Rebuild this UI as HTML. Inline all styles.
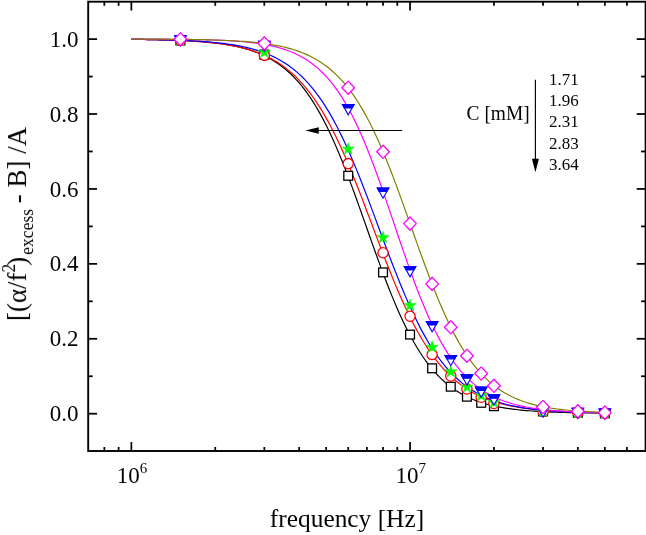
<!DOCTYPE html>
<html><head><meta charset="utf-8"><title>chart</title>
<style>html,body{margin:0;padding:0;background:#fff;}body{width:646px;height:535px;overflow:hidden;position:relative;font-family:"Liberation Serif",serif;}</style>
</head><body>
<svg width="646" height="535" viewBox="0 0 646 535" style="position:absolute;left:0;top:0">
<rect x="0" y="0" width="646" height="535" fill="#fff"/>
<path d="M131.35,39.34 L134.15,39.37 L136.95,39.40 L139.76,39.44 L142.56,39.47 L145.36,39.51 L148.16,39.56 L150.96,39.61 L153.76,39.66 L156.57,39.71 L159.37,39.78 L162.17,39.84 L164.97,39.91 L167.77,39.99 L170.58,40.08 L173.38,40.17 L176.18,40.27 L178.98,40.38 L181.78,40.50 L184.58,40.63 L187.39,40.77 L190.19,40.92 L192.99,41.09 L195.79,41.26 L198.59,41.46 L201.39,41.67 L204.20,41.90 L207.00,42.15 L209.80,42.42 L212.60,42.71 L215.40,43.03 L218.21,43.38 L221.01,43.75 L223.81,44.16 L226.61,44.60 L229.41,45.08 L232.21,45.60 L235.02,46.16 L237.82,46.77 L240.62,47.43 L243.42,48.15 L246.22,48.93 L249.03,49.77 L251.83,50.68 L254.63,51.66 L257.43,52.72 L260.23,53.88 L263.03,55.12 L265.84,56.46 L268.64,57.91 L271.44,59.47 L274.24,61.16 L277.04,62.97 L279.85,64.92 L282.65,67.02 L285.45,69.28 L288.25,71.70 L291.05,74.29 L293.85,77.07 L296.66,80.05 L299.46,83.22 L302.26,86.61 L305.06,90.22 L307.86,94.06 L310.66,98.13 L313.47,102.45 L316.27,107.02 L319.07,111.84 L321.87,116.91 L324.67,122.25 L327.48,127.84 L330.28,133.69 L333.08,139.79 L335.88,146.13 L338.68,152.71 L341.48,159.51 L344.29,166.53 L347.09,173.74 L349.89,181.12 L352.69,188.66 L355.49,196.33 L358.30,204.11 L361.10,211.97 L363.90,219.88 L366.70,227.82 L369.50,235.75 L372.30,243.66 L375.11,251.50 L377.91,259.26 L380.71,266.90 L383.51,274.40 L386.31,281.75 L389.11,288.92 L391.92,295.88 L394.72,302.63 L397.52,309.16 L400.32,315.44 L403.12,321.48 L405.93,327.26 L408.73,332.78 L411.53,338.04 L414.33,343.04 L417.13,347.79 L419.93,352.28 L422.74,356.52 L425.54,360.52 L428.34,364.28 L431.14,367.81 L433.94,371.12 L436.75,374.22 L439.55,377.12 L442.35,379.82 L445.15,382.35 L447.95,384.69 L450.75,386.88 L453.56,388.91 L456.36,390.80 L459.16,392.55 L461.96,394.17 L464.76,395.67 L467.57,397.06 L470.37,398.34 L473.17,399.53 L475.97,400.63 L478.77,401.64 L481.57,402.57 L484.38,403.44 L487.18,404.23 L489.98,404.96 L492.78,405.64 L495.58,406.26 L498.38,406.83 L501.19,407.36 L503.99,407.84 L506.79,408.29 L509.59,408.70 L512.39,409.07 L515.20,409.42 L518.00,409.74 L520.80,410.03 L523.60,410.30 L526.40,410.55 L529.20,410.77 L532.01,410.98 L534.81,411.17 L537.61,411.35 L540.41,411.51 L543.21,411.66 L546.02,411.80 L548.82,411.92 L551.62,412.03 L554.42,412.14 L557.22,412.24 L560.02,412.32 L562.83,412.41 L565.63,412.48 L568.43,412.55 L571.23,412.61 L574.03,412.67 L576.84,412.72 L579.64,412.77 L582.44,412.81 L585.24,412.85 L588.04,412.89 L590.84,412.93 L593.65,412.96 L596.45,412.99 L599.25,413.01 L602.05,413.04 L604.85,413.06" fill="none" stroke="#000000" stroke-width="1.2" stroke-linejoin="round"/>
<path d="M131.35,39.37 L134.15,39.40 L136.95,39.44 L139.76,39.47 L142.56,39.51 L145.36,39.56 L148.16,39.60 L150.96,39.65 L153.76,39.71 L156.57,39.77 L159.37,39.83 L162.17,39.90 L164.97,39.98 L167.77,40.06 L170.58,40.15 L173.38,40.25 L176.18,40.35 L178.98,40.47 L181.78,40.59 L184.58,40.72 L187.39,40.87 L190.19,41.02 L192.99,41.19 L195.79,41.37 L198.59,41.57 L201.39,41.79 L204.20,42.02 L207.00,42.27 L209.80,42.54 L212.60,42.84 L215.40,43.15 L218.21,43.50 L221.01,43.87 L223.81,44.27 L226.61,44.71 L229.41,45.18 L232.21,45.69 L235.02,46.24 L237.82,46.83 L240.62,47.47 L243.42,48.17 L246.22,48.91 L249.03,49.72 L251.83,50.59 L254.63,51.53 L257.43,52.53 L260.23,53.62 L263.03,54.79 L265.84,56.05 L268.64,57.41 L271.44,58.86 L274.24,60.43 L277.04,62.10 L279.85,63.90 L282.65,65.83 L285.45,67.90 L288.25,70.11 L291.05,72.47 L293.85,74.99 L296.66,77.68 L299.46,80.55 L302.26,83.60 L305.06,86.83 L307.86,90.27 L310.66,93.91 L313.47,97.76 L316.27,101.83 L319.07,106.12 L321.87,110.63 L324.67,115.37 L327.48,120.34 L330.28,125.54 L333.08,130.96 L335.88,136.60 L338.68,142.47 L341.48,148.54 L344.29,154.82 L347.09,161.28 L349.89,167.93 L352.69,174.75 L355.49,181.71 L358.30,188.80 L361.10,196.01 L363.90,203.30 L366.70,210.67 L369.50,218.08 L372.30,225.51 L375.11,232.95 L377.91,240.36 L380.71,247.73 L383.51,255.03 L386.31,262.23 L389.11,269.33 L391.92,276.29 L394.72,283.11 L397.52,289.76 L400.32,296.24 L403.12,302.52 L405.93,308.60 L408.73,314.48 L411.53,320.13 L414.33,325.56 L417.13,330.77 L419.93,335.75 L422.74,340.51 L425.54,345.04 L428.34,349.34 L431.14,353.43 L433.94,357.30 L436.75,360.96 L439.55,364.42 L442.35,367.68 L445.15,370.75 L447.95,373.64 L450.75,376.36 L453.56,378.90 L456.36,381.29 L459.16,383.53 L461.96,385.62 L464.76,387.57 L467.57,389.40 L470.37,391.10 L473.17,392.69 L475.97,394.17 L478.77,395.55 L481.57,396.84 L484.38,398.04 L487.18,399.15 L489.98,400.18 L492.78,401.14 L495.58,402.03 L498.38,402.86 L501.19,403.63 L503.99,404.34 L506.79,405.01 L509.59,405.62 L512.39,406.19 L515.20,406.72 L518.00,407.21 L520.80,407.66 L523.60,408.08 L526.40,408.47 L529.20,408.83 L532.01,409.16 L534.81,409.47 L537.61,409.76 L540.41,410.02 L543.21,410.27 L546.02,410.49 L548.82,410.70 L551.62,410.90 L554.42,411.08 L557.22,411.24 L560.02,411.40 L562.83,411.54 L565.63,411.67 L568.43,411.79 L571.23,411.91 L574.03,412.01 L576.84,412.11 L579.64,412.20 L582.44,412.28 L585.24,412.36 L588.04,412.43 L590.84,412.49 L593.65,412.55 L596.45,412.61 L599.25,412.66 L602.05,412.71 L604.85,412.75" fill="none" stroke="#ff0000" stroke-width="1.2" stroke-linejoin="round"/>
<path d="M131.35,39.33 L134.15,39.36 L136.95,39.39 L139.76,39.42 L142.56,39.46 L145.36,39.49 L148.16,39.53 L150.96,39.58 L153.76,39.62 L156.57,39.68 L159.37,39.73 L162.17,39.79 L164.97,39.86 L167.77,39.93 L170.58,40.00 L173.38,40.08 L176.18,40.17 L178.98,40.27 L181.78,40.37 L184.58,40.49 L187.39,40.61 L190.19,40.74 L192.99,40.88 L195.79,41.04 L198.59,41.20 L201.39,41.38 L204.20,41.58 L207.00,41.79 L209.80,42.02 L212.60,42.27 L215.40,42.53 L218.21,42.82 L221.01,43.14 L223.81,43.47 L226.61,43.84 L229.41,44.23 L232.21,44.66 L235.02,45.12 L237.82,45.62 L240.62,46.16 L243.42,46.74 L246.22,47.37 L249.03,48.05 L251.83,48.78 L254.63,49.56 L257.43,50.42 L260.23,51.33 L263.03,52.32 L265.84,53.38 L268.64,54.53 L271.44,55.76 L274.24,57.09 L277.04,58.52 L279.85,60.05 L282.65,61.70 L285.45,63.46 L288.25,65.36 L291.05,67.39 L293.85,69.56 L296.66,71.88 L299.46,74.37 L302.26,77.02 L305.06,79.85 L307.86,82.86 L310.66,86.06 L313.47,89.46 L316.27,93.07 L319.07,96.89 L321.87,100.93 L324.67,105.19 L327.48,109.68 L330.28,114.40 L333.08,119.36 L335.88,124.55 L338.68,129.97 L341.48,135.63 L344.29,141.51 L347.09,147.61 L349.89,153.92 L352.69,160.43 L355.49,167.13 L358.30,174.01 L361.10,181.04 L363.90,188.22 L366.70,195.51 L369.50,202.90 L372.30,210.37 L375.11,217.90 L377.91,225.45 L380.71,233.00 L383.51,240.54 L386.31,248.03 L389.11,255.46 L391.92,262.79 L394.72,270.01 L397.52,277.09 L400.32,284.03 L403.12,290.79 L405.93,297.37 L408.73,303.75 L411.53,309.92 L414.33,315.88 L417.13,321.61 L419.93,327.11 L422.74,332.37 L425.54,337.40 L428.34,342.19 L431.14,346.75 L433.94,351.08 L436.75,355.18 L439.55,359.06 L442.35,362.73 L445.15,366.18 L447.95,369.43 L450.75,372.48 L453.56,375.35 L456.36,378.04 L459.16,380.55 L461.96,382.91 L464.76,385.11 L467.57,387.16 L470.37,389.07 L473.17,390.86 L475.97,392.52 L478.77,394.06 L481.57,395.50 L484.38,396.83 L487.18,398.07 L489.98,399.22 L492.78,400.29 L495.58,401.28 L498.38,402.19 L501.19,403.04 L503.99,403.83 L506.79,404.55 L509.59,405.23 L512.39,405.85 L515.20,406.42 L518.00,406.96 L520.80,407.45 L523.60,407.90 L526.40,408.32 L529.20,408.71 L532.01,409.06 L534.81,409.40 L537.61,409.70 L540.41,409.98 L543.21,410.24 L546.02,410.48 L548.82,410.70 L551.62,410.91 L554.42,411.09 L557.22,411.27 L560.02,411.43 L562.83,411.57 L565.63,411.71 L568.43,411.83 L571.23,411.95 L574.03,412.06 L576.84,412.15 L579.64,412.24 L582.44,412.33 L585.24,412.40 L588.04,412.48 L590.84,412.54 L593.65,412.60 L596.45,412.66 L599.25,412.71 L602.05,412.75 L604.85,412.80" fill="none" stroke="#0000ff" stroke-width="1.2" stroke-linejoin="round"/>
<path d="M131.35,39.06 L134.15,39.07 L136.95,39.08 L139.76,39.08 L142.56,39.09 L145.36,39.10 L148.16,39.11 L150.96,39.12 L153.76,39.13 L156.57,39.15 L159.37,39.16 L162.17,39.18 L164.97,39.20 L167.77,39.22 L170.58,39.24 L173.38,39.26 L176.18,39.29 L178.98,39.32 L181.78,39.35 L184.58,39.38 L187.39,39.42 L190.19,39.46 L192.99,39.51 L195.79,39.56 L198.59,39.62 L201.39,39.68 L204.20,39.74 L207.00,39.82 L209.80,39.90 L212.60,39.98 L215.40,40.08 L218.21,40.19 L221.01,40.30 L223.81,40.43 L226.61,40.57 L229.41,40.72 L232.21,40.89 L235.02,41.08 L237.82,41.28 L240.62,41.50 L243.42,41.74 L246.22,42.01 L249.03,42.30 L251.83,42.61 L254.63,42.96 L257.43,43.34 L260.23,43.76 L263.03,44.21 L265.84,44.71 L268.64,45.25 L271.44,45.84 L274.24,46.49 L277.04,47.20 L279.85,47.97 L282.65,48.81 L285.45,49.73 L288.25,50.73 L291.05,51.81 L293.85,53.00 L296.66,54.29 L299.46,55.68 L302.26,57.20 L305.06,58.85 L307.86,60.63 L310.66,62.57 L313.47,64.66 L316.27,66.92 L319.07,69.36 L321.87,71.99 L324.67,74.83 L327.48,77.87 L330.28,81.14 L333.08,84.64 L335.88,88.39 L338.68,92.39 L341.48,96.65 L344.29,101.19 L347.09,106.00 L349.89,111.09 L352.69,116.47 L355.49,122.13 L358.30,128.07 L361.10,134.30 L363.90,140.80 L366.70,147.56 L369.50,154.57 L372.30,161.83 L375.11,169.30 L377.91,176.97 L380.71,184.81 L383.51,192.80 L386.31,200.91 L389.11,209.12 L391.92,217.38 L394.72,225.66 L397.52,233.95 L400.32,242.19 L403.12,250.36 L405.93,258.44 L408.73,266.38 L411.53,274.17 L414.33,281.77 L417.13,289.18 L419.93,296.36 L422.74,303.30 L425.54,309.99 L428.34,316.41 L431.14,322.57 L433.94,328.44 L436.75,334.04 L439.55,339.36 L442.35,344.40 L445.15,349.16 L447.95,353.66 L450.75,357.89 L453.56,361.87 L456.36,365.60 L459.16,369.09 L461.96,372.36 L464.76,375.41 L467.57,378.26 L470.37,380.91 L473.17,383.37 L475.97,385.66 L478.77,387.79 L481.57,389.76 L484.38,391.59 L487.18,393.28 L489.98,394.84 L492.78,396.29 L495.58,397.63 L498.38,398.87 L501.19,400.01 L503.99,401.06 L506.79,402.03 L509.59,402.93 L512.39,403.75 L515.20,404.51 L518.00,405.21 L520.80,405.86 L523.60,406.45 L526.40,407.00 L529.20,407.50 L532.01,407.97 L534.81,408.39 L537.61,408.78 L540.41,409.15 L543.21,409.48 L546.02,409.78 L548.82,410.06 L551.62,410.32 L554.42,410.56 L557.22,410.78 L560.02,410.98 L562.83,411.17 L565.63,411.34 L568.43,411.49 L571.23,411.64 L574.03,411.77 L576.84,411.89 L579.64,412.00 L582.44,412.11 L585.24,412.20 L588.04,412.29 L590.84,412.37 L593.65,412.44 L596.45,412.51 L599.25,412.57 L602.05,412.63 L604.85,412.68" fill="none" stroke="#ff00ff" stroke-width="1.2" stroke-linejoin="round"/>
<path d="M131.35,39.09 L134.15,39.10 L136.95,39.11 L139.76,39.12 L142.56,39.13 L145.36,39.14 L148.16,39.15 L150.96,39.16 L153.76,39.17 L156.57,39.19 L159.37,39.21 L162.17,39.22 L164.97,39.24 L167.77,39.26 L170.58,39.29 L173.38,39.31 L176.18,39.34 L178.98,39.37 L181.78,39.40 L184.58,39.43 L187.39,39.47 L190.19,39.51 L192.99,39.55 L195.79,39.60 L198.59,39.65 L201.39,39.71 L204.20,39.77 L207.00,39.84 L209.80,39.91 L212.60,39.99 L215.40,40.07 L218.21,40.17 L221.01,40.27 L223.81,40.38 L226.61,40.49 L229.41,40.62 L232.21,40.76 L235.02,40.92 L237.82,41.08 L240.62,41.26 L243.42,41.45 L246.22,41.67 L249.03,41.90 L251.83,42.14 L254.63,42.42 L257.43,42.71 L260.23,43.03 L263.03,43.37 L265.84,43.75 L268.64,44.16 L271.44,44.60 L274.24,45.08 L277.04,45.60 L279.85,46.16 L282.65,46.77 L285.45,47.44 L288.25,48.15 L291.05,48.93 L293.85,49.77 L296.66,50.68 L299.46,51.67 L302.26,52.73 L305.06,53.89 L307.86,55.13 L310.66,56.47 L313.47,57.93 L316.27,59.49 L319.07,61.18 L321.87,62.99 L324.67,64.95 L327.48,67.05 L330.28,69.31 L333.08,71.73 L335.88,74.33 L338.68,77.12 L341.48,80.09 L344.29,83.27 L347.09,86.66 L349.89,90.27 L352.69,94.11 L355.49,98.19 L358.30,102.51 L361.10,107.08 L363.90,111.90 L366.70,116.98 L369.50,122.31 L372.30,127.90 L375.11,133.75 L377.91,139.85 L380.71,146.19 L383.51,152.77 L386.31,159.57 L389.11,166.58 L391.92,173.78 L394.72,181.16 L397.52,188.69 L400.32,196.35 L403.12,204.12 L405.93,211.97 L408.73,219.87 L411.53,227.80 L414.33,235.72 L417.13,243.61 L419.93,251.44 L422.74,259.18 L425.54,266.82 L428.34,274.31 L431.14,281.65 L433.94,288.80 L436.75,295.76 L439.55,302.50 L442.35,309.01 L445.15,315.29 L447.95,321.32 L450.75,327.09 L453.56,332.61 L456.36,337.87 L459.16,342.87 L461.96,347.61 L464.76,352.10 L467.57,356.34 L470.37,360.34 L473.17,364.10 L475.97,367.63 L478.77,370.95 L481.57,374.05 L484.38,376.95 L487.18,379.66 L489.98,382.19 L492.78,384.54 L495.58,386.73 L498.38,388.76 L501.19,390.65 L503.99,392.41 L506.79,394.03 L509.59,395.54 L512.39,396.93 L515.20,398.22 L518.00,399.42 L520.80,400.52 L523.60,401.54 L526.40,402.48 L529.20,403.34 L532.01,404.14 L534.81,404.88 L537.61,405.56 L540.41,406.18 L543.21,406.76 L546.02,407.29 L548.82,407.78 L551.62,408.23 L554.42,408.64 L557.22,409.02 L560.02,409.37 L562.83,409.69 L565.63,409.99 L568.43,410.26 L571.23,410.51 L574.03,410.74 L576.84,410.95 L579.64,411.14 L582.44,411.32 L585.24,411.48 L588.04,411.63 L590.84,411.77 L593.65,411.89 L596.45,412.01 L599.25,412.12 L602.05,412.21 L604.85,412.30" fill="none" stroke="#808000" stroke-width="1.2" stroke-linejoin="round"/>
<rect x="176.03" y="36.10" width="8.8" height="8.8" fill="#fff" stroke="#000" stroke-width="1.3"/>
<rect x="259.92" y="50.20" width="8.8" height="8.8" fill="#fff" stroke="#000" stroke-width="1.3"/>
<rect x="343.82" y="171.40" width="8.8" height="8.8" fill="#fff" stroke="#000" stroke-width="1.3"/>
<rect x="378.64" y="268.00" width="8.8" height="8.8" fill="#fff" stroke="#000" stroke-width="1.3"/>
<rect x="405.65" y="330.20" width="8.8" height="8.8" fill="#fff" stroke="#000" stroke-width="1.3"/>
<rect x="427.72" y="363.90" width="8.8" height="8.8" fill="#fff" stroke="#000" stroke-width="1.3"/>
<rect x="446.38" y="382.30" width="8.8" height="8.8" fill="#fff" stroke="#000" stroke-width="1.3"/>
<rect x="462.54" y="392.30" width="8.8" height="8.8" fill="#fff" stroke="#000" stroke-width="1.3"/>
<rect x="476.79" y="398.40" width="8.8" height="8.8" fill="#fff" stroke="#000" stroke-width="1.3"/>
<rect x="489.55" y="401.80" width="8.8" height="8.8" fill="#fff" stroke="#000" stroke-width="1.3"/>
<rect x="538.62" y="407.10" width="8.8" height="8.8" fill="#fff" stroke="#000" stroke-width="1.3"/>
<rect x="573.44" y="408.40" width="8.8" height="8.8" fill="#fff" stroke="#000" stroke-width="1.3"/>
<rect x="600.45" y="408.90" width="8.8" height="8.8" fill="#fff" stroke="#000" stroke-width="1.3"/>
<circle cx="180.43" cy="40.50" r="5.1" fill="#fff" stroke="#f00" stroke-width="1.3"/>
<rect x="180.03" y="40.10" width="0.8" height="0.8" fill="#f00" opacity="0.45"/>
<circle cx="264.32" cy="55.40" r="5.1" fill="#fff" stroke="#f00" stroke-width="1.3"/>
<rect x="263.92" y="55.00" width="0.8" height="0.8" fill="#f00" opacity="0.45"/>
<circle cx="348.22" cy="163.60" r="5.1" fill="#fff" stroke="#f00" stroke-width="1.3"/>
<rect x="347.82" y="163.20" width="0.8" height="0.8" fill="#f00" opacity="0.45"/>
<circle cx="383.04" cy="252.80" r="5.1" fill="#fff" stroke="#f00" stroke-width="1.3"/>
<rect x="382.64" y="252.40" width="0.8" height="0.8" fill="#f00" opacity="0.45"/>
<circle cx="410.05" cy="316.30" r="5.1" fill="#fff" stroke="#f00" stroke-width="1.3"/>
<rect x="409.65" y="315.90" width="0.8" height="0.8" fill="#f00" opacity="0.45"/>
<circle cx="432.12" cy="354.60" r="5.1" fill="#fff" stroke="#f00" stroke-width="1.3"/>
<rect x="431.72" y="354.20" width="0.8" height="0.8" fill="#f00" opacity="0.45"/>
<circle cx="450.78" cy="376.00" r="5.1" fill="#fff" stroke="#f00" stroke-width="1.3"/>
<rect x="450.38" y="375.60" width="0.8" height="0.8" fill="#f00" opacity="0.45"/>
<circle cx="466.94" cy="389.00" r="5.1" fill="#fff" stroke="#f00" stroke-width="1.3"/>
<rect x="466.54" y="388.60" width="0.8" height="0.8" fill="#f00" opacity="0.45"/>
<circle cx="481.19" cy="397.30" r="5.1" fill="#fff" stroke="#f00" stroke-width="1.3"/>
<rect x="480.79" y="396.90" width="0.8" height="0.8" fill="#f00" opacity="0.45"/>
<circle cx="493.95" cy="403.50" r="5.1" fill="#fff" stroke="#f00" stroke-width="1.3"/>
<rect x="493.55" y="403.10" width="0.8" height="0.8" fill="#f00" opacity="0.45"/>
<circle cx="543.02" cy="411.50" r="5.1" fill="#fff" stroke="#f00" stroke-width="1.3"/>
<rect x="542.62" y="411.10" width="0.8" height="0.8" fill="#f00" opacity="0.45"/>
<circle cx="577.84" cy="412.80" r="5.1" fill="#fff" stroke="#f00" stroke-width="1.3"/>
<rect x="577.44" y="412.40" width="0.8" height="0.8" fill="#f00" opacity="0.45"/>
<circle cx="604.85" cy="413.30" r="5.1" fill="#fff" stroke="#f00" stroke-width="1.3"/>
<rect x="604.45" y="412.90" width="0.8" height="0.8" fill="#f00" opacity="0.45"/>
<polygon points="180.43,33.90 181.86,38.32 186.51,38.32 182.75,41.06 184.19,45.48 180.43,42.74 176.66,45.48 178.10,41.06 174.34,38.32 178.99,38.32" fill="#00ff00" stroke="#00ff00" stroke-width="0.6" stroke-linejoin="miter"/>
<polygon points="264.32,46.00 265.76,50.42 270.41,50.42 266.65,53.16 268.09,57.58 264.32,54.84 260.56,57.58 262.00,53.16 258.24,50.42 262.89,50.42" fill="#00ff00" stroke="#00ff00" stroke-width="0.6" stroke-linejoin="miter"/>
<polygon points="348.22,142.70 349.66,147.12 354.31,147.12 350.55,149.86 351.98,154.28 348.22,151.54 344.46,154.28 345.90,149.86 342.13,147.12 346.78,147.12" fill="#00ff00" stroke="#00ff00" stroke-width="0.6" stroke-linejoin="miter"/>
<polygon points="383.04,231.20 384.48,235.62 389.13,235.62 385.37,238.36 386.80,242.78 383.04,240.04 379.28,242.78 380.72,238.36 376.95,235.62 381.60,235.62" fill="#00ff00" stroke="#00ff00" stroke-width="0.6" stroke-linejoin="miter"/>
<polygon points="410.05,299.20 411.49,303.62 416.14,303.62 412.38,306.36 413.81,310.78 410.05,308.04 406.29,310.78 407.72,306.36 403.96,303.62 408.61,303.62" fill="#00ff00" stroke="#00ff00" stroke-width="0.6" stroke-linejoin="miter"/>
<polygon points="432.12,340.80 433.55,345.22 438.20,345.22 434.44,347.96 435.88,352.38 432.12,349.64 428.36,352.38 429.79,347.96 426.03,345.22 430.68,345.22" fill="#00ff00" stroke="#00ff00" stroke-width="0.6" stroke-linejoin="miter"/>
<polygon points="450.78,365.40 452.21,369.82 456.86,369.82 453.10,372.56 454.54,376.98 450.78,374.24 447.01,376.98 448.45,372.56 444.69,369.82 449.34,369.82" fill="#00ff00" stroke="#00ff00" stroke-width="0.6" stroke-linejoin="miter"/>
<polygon points="466.94,380.70 468.38,385.12 473.03,385.12 469.26,387.86 470.70,392.28 466.94,389.54 463.18,392.28 464.61,387.86 460.85,385.12 465.50,385.12" fill="#00ff00" stroke="#00ff00" stroke-width="0.6" stroke-linejoin="miter"/>
<polygon points="481.19,389.10 482.63,393.52 487.28,393.52 483.52,396.26 484.96,400.68 481.19,397.94 477.43,400.68 478.87,396.26 475.11,393.52 479.76,393.52" fill="#00ff00" stroke="#00ff00" stroke-width="0.6" stroke-linejoin="miter"/>
<polygon points="493.95,395.90 495.38,400.32 500.03,400.32 496.27,403.06 497.71,407.48 493.95,404.74 490.19,407.48 491.62,403.06 487.86,400.32 492.51,400.32" fill="#00ff00" stroke="#00ff00" stroke-width="0.6" stroke-linejoin="miter"/>
<polygon points="543.02,405.10 544.46,409.52 549.11,409.52 545.35,412.26 546.79,416.68 543.02,413.94 539.26,416.68 540.70,412.26 536.94,409.52 541.59,409.52" fill="#00ff00" stroke="#00ff00" stroke-width="0.6" stroke-linejoin="miter"/>
<polygon points="577.84,406.40 579.28,410.82 583.93,410.82 580.17,413.56 581.61,417.98 577.84,415.24 574.08,417.98 575.52,413.56 571.76,410.82 576.41,410.82" fill="#00ff00" stroke="#00ff00" stroke-width="0.6" stroke-linejoin="miter"/>
<polygon points="604.85,406.90 606.29,411.32 610.94,411.32 607.18,414.06 608.61,418.48 604.85,415.74 601.09,418.48 602.53,414.06 598.77,411.32 603.42,411.32" fill="#00ff00" stroke="#00ff00" stroke-width="0.6" stroke-linejoin="miter"/>
<polygon points="174.68,35.90 186.18,35.90 180.43,46.10" fill="#fff" stroke="#00f" stroke-width="1.1" stroke-linejoin="miter"/>
<polygon points="174.68,35.90 186.18,35.90 184.28,39.27 176.57,39.27" fill="#00f" stroke="#00f" stroke-width="1.1" stroke-linejoin="miter"/>
<polygon points="258.57,41.30 270.07,41.30 264.32,51.50" fill="#fff" stroke="#00f" stroke-width="1.1" stroke-linejoin="miter"/>
<polygon points="258.57,41.30 270.07,41.30 268.18,44.67 260.47,44.67" fill="#00f" stroke="#00f" stroke-width="1.1" stroke-linejoin="miter"/>
<polygon points="342.47,104.60 353.97,104.60 348.22,114.80" fill="#fff" stroke="#00f" stroke-width="1.1" stroke-linejoin="miter"/>
<polygon points="342.47,104.60 353.97,104.60 352.07,107.97 344.37,107.97" fill="#00f" stroke="#00f" stroke-width="1.1" stroke-linejoin="miter"/>
<polygon points="377.29,188.00 388.79,188.00 383.04,198.20" fill="#fff" stroke="#00f" stroke-width="1.1" stroke-linejoin="miter"/>
<polygon points="377.29,188.00 388.79,188.00 386.89,191.37 379.19,191.37" fill="#00f" stroke="#00f" stroke-width="1.1" stroke-linejoin="miter"/>
<polygon points="404.30,266.60 415.80,266.60 410.05,276.80" fill="#fff" stroke="#00f" stroke-width="1.1" stroke-linejoin="miter"/>
<polygon points="404.30,266.60 415.80,266.60 413.90,269.97 406.20,269.97" fill="#00f" stroke="#00f" stroke-width="1.1" stroke-linejoin="miter"/>
<polygon points="426.37,321.60 437.87,321.60 432.12,331.80" fill="#fff" stroke="#00f" stroke-width="1.1" stroke-linejoin="miter"/>
<polygon points="426.37,321.60 437.87,321.60 435.97,324.97 428.27,324.97" fill="#00f" stroke="#00f" stroke-width="1.1" stroke-linejoin="miter"/>
<polygon points="445.03,355.50 456.53,355.50 450.78,365.70" fill="#fff" stroke="#00f" stroke-width="1.1" stroke-linejoin="miter"/>
<polygon points="445.03,355.50 456.53,355.50 454.63,358.87 446.92,358.87" fill="#00f" stroke="#00f" stroke-width="1.1" stroke-linejoin="miter"/>
<polygon points="461.19,374.90 472.69,374.90 466.94,385.10" fill="#fff" stroke="#00f" stroke-width="1.1" stroke-linejoin="miter"/>
<polygon points="461.19,374.90 472.69,374.90 470.79,378.27 463.09,378.27" fill="#00f" stroke="#00f" stroke-width="1.1" stroke-linejoin="miter"/>
<polygon points="475.44,387.10 486.94,387.10 481.19,397.30" fill="#fff" stroke="#00f" stroke-width="1.1" stroke-linejoin="miter"/>
<polygon points="475.44,387.10 486.94,387.10 485.05,390.47 477.34,390.47" fill="#00f" stroke="#00f" stroke-width="1.1" stroke-linejoin="miter"/>
<polygon points="488.20,394.90 499.70,394.90 493.95,405.10" fill="#fff" stroke="#00f" stroke-width="1.1" stroke-linejoin="miter"/>
<polygon points="488.20,394.90 499.70,394.90 497.80,398.27 490.09,398.27" fill="#00f" stroke="#00f" stroke-width="1.1" stroke-linejoin="miter"/>
<polygon points="537.27,407.00 548.77,407.00 543.02,417.20" fill="#fff" stroke="#00f" stroke-width="1.1" stroke-linejoin="miter"/>
<polygon points="537.27,407.00 548.77,407.00 546.88,410.37 539.17,410.37" fill="#00f" stroke="#00f" stroke-width="1.1" stroke-linejoin="miter"/>
<polygon points="572.09,408.40 583.59,408.40 577.84,418.60" fill="#fff" stroke="#00f" stroke-width="1.1" stroke-linejoin="miter"/>
<polygon points="572.09,408.40 583.59,408.40 581.70,411.77 573.99,411.77" fill="#00f" stroke="#00f" stroke-width="1.1" stroke-linejoin="miter"/>
<polygon points="599.10,409.10 610.60,409.10 604.85,419.30" fill="#fff" stroke="#00f" stroke-width="1.1" stroke-linejoin="miter"/>
<polygon points="599.10,409.10 610.60,409.10 608.71,412.47 601.00,412.47" fill="#00f" stroke="#00f" stroke-width="1.1" stroke-linejoin="miter"/>
<polygon points="180.43,32.60 186.78,39.20 180.43,45.80 174.08,39.20" fill="#fff" stroke="#f0f" stroke-width="1.3" stroke-linejoin="round"/>
<rect x="179.98" y="38.65" width="0.9" height="0.9" fill="#f0f" opacity="0.35"/>
<polygon points="264.32,36.80 270.67,43.40 264.32,50.00 257.97,43.40" fill="#fff" stroke="#f0f" stroke-width="1.3" stroke-linejoin="round"/>
<rect x="263.87" y="42.85" width="0.9" height="0.9" fill="#f0f" opacity="0.35"/>
<polygon points="348.22,81.10 354.57,87.70 348.22,94.30 341.87,87.70" fill="#fff" stroke="#f0f" stroke-width="1.3" stroke-linejoin="round"/>
<rect x="347.77" y="87.15" width="0.9" height="0.9" fill="#f0f" opacity="0.35"/>
<polygon points="383.04,145.20 389.39,151.80 383.04,158.40 376.69,151.80" fill="#fff" stroke="#f0f" stroke-width="1.3" stroke-linejoin="round"/>
<rect x="382.59" y="151.25" width="0.9" height="0.9" fill="#f0f" opacity="0.35"/>
<polygon points="410.05,217.00 416.40,223.60 410.05,230.20 403.70,223.60" fill="#fff" stroke="#f0f" stroke-width="1.3" stroke-linejoin="round"/>
<rect x="409.60" y="223.05" width="0.9" height="0.9" fill="#f0f" opacity="0.35"/>
<polygon points="432.12,277.30 438.47,283.90 432.12,290.50 425.77,283.90" fill="#fff" stroke="#f0f" stroke-width="1.3" stroke-linejoin="round"/>
<rect x="431.67" y="283.35" width="0.9" height="0.9" fill="#f0f" opacity="0.35"/>
<polygon points="450.78,320.70 457.13,327.30 450.78,333.90 444.43,327.30" fill="#fff" stroke="#f0f" stroke-width="1.3" stroke-linejoin="round"/>
<rect x="450.33" y="326.75" width="0.9" height="0.9" fill="#f0f" opacity="0.35"/>
<polygon points="466.94,349.10 473.29,355.70 466.94,362.30 460.59,355.70" fill="#fff" stroke="#f0f" stroke-width="1.3" stroke-linejoin="round"/>
<rect x="466.49" y="355.15" width="0.9" height="0.9" fill="#f0f" opacity="0.35"/>
<polygon points="481.19,366.90 487.54,373.50 481.19,380.10 474.84,373.50" fill="#fff" stroke="#f0f" stroke-width="1.3" stroke-linejoin="round"/>
<rect x="480.74" y="372.95" width="0.9" height="0.9" fill="#f0f" opacity="0.35"/>
<polygon points="493.95,379.20 500.30,385.80 493.95,392.40 487.60,385.80" fill="#fff" stroke="#f0f" stroke-width="1.3" stroke-linejoin="round"/>
<rect x="493.50" y="385.25" width="0.9" height="0.9" fill="#f0f" opacity="0.35"/>
<polygon points="543.02,400.40 549.37,407.00 543.02,413.60 536.67,407.00" fill="#fff" stroke="#f0f" stroke-width="1.3" stroke-linejoin="round"/>
<rect x="542.57" y="406.45" width="0.9" height="0.9" fill="#f0f" opacity="0.35"/>
<polygon points="577.84,404.70 584.19,411.30 577.84,417.90 571.49,411.30" fill="#fff" stroke="#f0f" stroke-width="1.3" stroke-linejoin="round"/>
<rect x="577.39" y="410.75" width="0.9" height="0.9" fill="#f0f" opacity="0.35"/>
<polygon points="604.85,406.00 611.20,412.60 604.85,419.20 598.50,412.60" fill="#fff" stroke="#f0f" stroke-width="1.3" stroke-linejoin="round"/>
<rect x="604.40" y="412.05" width="0.9" height="0.9" fill="#f0f" opacity="0.35"/>
<line x1="317" y1="130.5" x2="402.2" y2="130.5" stroke="#000" stroke-width="1.1"/>
<polygon points="305.4,130.5 318.8,127.2 318.8,133.8" fill="#000"/>
<line x1="535.4" y1="79.7" x2="535.4" y2="160" stroke="#000" stroke-width="1.15"/>
<polygon points="535.4,172.3 531.9,158.8 538.9,158.8" fill="#000"/>
<line x1="88.2" y1="413.70" x2="97.10000000000001" y2="413.70" stroke="#000" stroke-width="1.75"/>
<line x1="645.6" y1="413.70" x2="636.7" y2="413.70" stroke="#000" stroke-width="1.75"/>
<line x1="88.2" y1="338.78" x2="97.10000000000001" y2="338.78" stroke="#000" stroke-width="1.75"/>
<line x1="645.6" y1="338.78" x2="636.7" y2="338.78" stroke="#000" stroke-width="1.75"/>
<line x1="88.2" y1="263.86" x2="97.10000000000001" y2="263.86" stroke="#000" stroke-width="1.75"/>
<line x1="645.6" y1="263.86" x2="636.7" y2="263.86" stroke="#000" stroke-width="1.75"/>
<line x1="88.2" y1="188.94" x2="97.10000000000001" y2="188.94" stroke="#000" stroke-width="1.75"/>
<line x1="645.6" y1="188.94" x2="636.7" y2="188.94" stroke="#000" stroke-width="1.75"/>
<line x1="88.2" y1="114.02" x2="97.10000000000001" y2="114.02" stroke="#000" stroke-width="1.75"/>
<line x1="645.6" y1="114.02" x2="636.7" y2="114.02" stroke="#000" stroke-width="1.75"/>
<line x1="88.2" y1="39.10" x2="97.10000000000001" y2="39.10" stroke="#000" stroke-width="1.75"/>
<line x1="645.6" y1="39.10" x2="636.7" y2="39.10" stroke="#000" stroke-width="1.75"/>
<line x1="88.2" y1="376.24" x2="92.7" y2="376.24" stroke="#000" stroke-width="1.75"/>
<line x1="645.6" y1="376.24" x2="641.1" y2="376.24" stroke="#000" stroke-width="1.75"/>
<line x1="88.2" y1="301.32" x2="92.7" y2="301.32" stroke="#000" stroke-width="1.75"/>
<line x1="645.6" y1="301.32" x2="641.1" y2="301.32" stroke="#000" stroke-width="1.75"/>
<line x1="88.2" y1="226.40" x2="92.7" y2="226.40" stroke="#000" stroke-width="1.75"/>
<line x1="645.6" y1="226.40" x2="641.1" y2="226.40" stroke="#000" stroke-width="1.75"/>
<line x1="88.2" y1="151.48" x2="92.7" y2="151.48" stroke="#000" stroke-width="1.75"/>
<line x1="645.6" y1="151.48" x2="641.1" y2="151.48" stroke="#000" stroke-width="1.75"/>
<line x1="88.2" y1="76.56" x2="92.7" y2="76.56" stroke="#000" stroke-width="1.75"/>
<line x1="645.6" y1="76.56" x2="641.1" y2="76.56" stroke="#000" stroke-width="1.75"/>
<line x1="131.35" y1="451.0" x2="131.35" y2="442.1" stroke="#000" stroke-width="1.75"/>
<line x1="131.35" y1="1.7" x2="131.35" y2="10.50" stroke="#000" stroke-width="1.75"/>
<line x1="410.05" y1="451.0" x2="410.05" y2="442.1" stroke="#000" stroke-width="1.75"/>
<line x1="410.05" y1="1.7" x2="410.05" y2="10.50" stroke="#000" stroke-width="1.75"/>
<line x1="104.34" y1="451.0" x2="104.34" y2="447.0" stroke="#000" stroke-width="1.75"/>
<line x1="104.34" y1="1.7" x2="104.34" y2="5.80" stroke="#000" stroke-width="1.75"/>
<line x1="118.60" y1="451.0" x2="118.60" y2="447.0" stroke="#000" stroke-width="1.75"/>
<line x1="118.60" y1="1.7" x2="118.60" y2="5.80" stroke="#000" stroke-width="1.75"/>
<line x1="215.25" y1="451.0" x2="215.25" y2="447.0" stroke="#000" stroke-width="1.75"/>
<line x1="215.25" y1="1.7" x2="215.25" y2="5.80" stroke="#000" stroke-width="1.75"/>
<line x1="264.32" y1="451.0" x2="264.32" y2="447.0" stroke="#000" stroke-width="1.75"/>
<line x1="264.32" y1="1.7" x2="264.32" y2="5.80" stroke="#000" stroke-width="1.75"/>
<line x1="299.14" y1="451.0" x2="299.14" y2="447.0" stroke="#000" stroke-width="1.75"/>
<line x1="299.14" y1="1.7" x2="299.14" y2="5.80" stroke="#000" stroke-width="1.75"/>
<line x1="326.15" y1="451.0" x2="326.15" y2="447.0" stroke="#000" stroke-width="1.75"/>
<line x1="326.15" y1="1.7" x2="326.15" y2="5.80" stroke="#000" stroke-width="1.75"/>
<line x1="348.22" y1="451.0" x2="348.22" y2="447.0" stroke="#000" stroke-width="1.75"/>
<line x1="348.22" y1="1.7" x2="348.22" y2="5.80" stroke="#000" stroke-width="1.75"/>
<line x1="366.88" y1="451.0" x2="366.88" y2="447.0" stroke="#000" stroke-width="1.75"/>
<line x1="366.88" y1="1.7" x2="366.88" y2="5.80" stroke="#000" stroke-width="1.75"/>
<line x1="383.04" y1="451.0" x2="383.04" y2="447.0" stroke="#000" stroke-width="1.75"/>
<line x1="383.04" y1="1.7" x2="383.04" y2="5.80" stroke="#000" stroke-width="1.75"/>
<line x1="397.30" y1="451.0" x2="397.30" y2="447.0" stroke="#000" stroke-width="1.75"/>
<line x1="397.30" y1="1.7" x2="397.30" y2="5.80" stroke="#000" stroke-width="1.75"/>
<line x1="493.95" y1="451.0" x2="493.95" y2="447.0" stroke="#000" stroke-width="1.75"/>
<line x1="493.95" y1="1.7" x2="493.95" y2="5.80" stroke="#000" stroke-width="1.75"/>
<line x1="543.02" y1="451.0" x2="543.02" y2="447.0" stroke="#000" stroke-width="1.75"/>
<line x1="543.02" y1="1.7" x2="543.02" y2="5.80" stroke="#000" stroke-width="1.75"/>
<line x1="577.84" y1="451.0" x2="577.84" y2="447.0" stroke="#000" stroke-width="1.75"/>
<line x1="577.84" y1="1.7" x2="577.84" y2="5.80" stroke="#000" stroke-width="1.75"/>
<line x1="604.85" y1="451.0" x2="604.85" y2="447.0" stroke="#000" stroke-width="1.75"/>
<line x1="604.85" y1="1.7" x2="604.85" y2="5.80" stroke="#000" stroke-width="1.75"/>
<line x1="626.92" y1="451.0" x2="626.92" y2="447.0" stroke="#000" stroke-width="1.75"/>
<line x1="626.92" y1="1.7" x2="626.92" y2="5.80" stroke="#000" stroke-width="1.75"/>
<rect x="88.2" y="1.7" width="557.4" height="449.3" fill="none" stroke="#000" stroke-width="1.9"/>
<g opacity="0.99">
<text transform="translate(78.6,421.30) scale(1,1.04)" font-family="Liberation Serif, serif" font-size="23" text-anchor="end" fill="#000">0.0</text>
<text transform="translate(78.6,346.38) scale(1,1.04)" font-family="Liberation Serif, serif" font-size="23" text-anchor="end" fill="#000">0.2</text>
<text transform="translate(78.6,271.46) scale(1,1.04)" font-family="Liberation Serif, serif" font-size="23" text-anchor="end" fill="#000">0.4</text>
<text transform="translate(78.6,196.54) scale(1,1.04)" font-family="Liberation Serif, serif" font-size="23" text-anchor="end" fill="#000">0.6</text>
<text transform="translate(78.6,121.62) scale(1,1.04)" font-family="Liberation Serif, serif" font-size="23" text-anchor="end" fill="#000">0.8</text>
<text transform="translate(78.6,46.70) scale(1,1.04)" font-family="Liberation Serif, serif" font-size="23" text-anchor="end" fill="#000">1.0</text>
<text transform="translate(116.75,483.1) scale(1,1.04)" font-family="Liberation Serif, serif" font-size="23" fill="#000">10<tspan font-size="15" dy="-9.6">6</tspan></text>
<text transform="translate(395.45,483.1) scale(1,1.04)" font-family="Liberation Serif, serif" font-size="23" fill="#000">10<tspan font-size="15" dy="-9.6">7</tspan></text>
<text transform="translate(347.0,526.6) scale(1,1.01)" font-family="Liberation Serif, serif" font-size="25.4" text-anchor="middle" fill="#000">frequency [Hz]</text>
<text transform="translate(26.4,321.1) rotate(-90) scale(1,1.05)" font-family="Liberation Serif, serif" font-size="27" fill="#000">[(α/f<tspan font-size="17.5" dy="-11">2</tspan><tspan dy="11" dx="-2">)</tspan><tspan font-size="17.5" dy="6.5" dx="2">excess</tspan><tspan dy="-6.5" dx="-1"> - B] /A</tspan></text>
<text transform="translate(466.6,119.5) scale(1,1.05)" font-family="Liberation Serif, serif" font-size="19.4" fill="#000">C [mM]</text>
<text transform="translate(549.0,84.50) scale(1,1.025)" font-family="Liberation Serif, serif" font-size="17" fill="#000">1.71</text>
<text transform="translate(549.0,105.90) scale(1,1.025)" font-family="Liberation Serif, serif" font-size="17" fill="#000">1.96</text>
<text transform="translate(549.0,127.30) scale(1,1.025)" font-family="Liberation Serif, serif" font-size="17" fill="#000">2.31</text>
<text transform="translate(549.0,148.70) scale(1,1.025)" font-family="Liberation Serif, serif" font-size="17" fill="#000">2.83</text>
<text transform="translate(549.0,170.10) scale(1,1.025)" font-family="Liberation Serif, serif" font-size="17" fill="#000">3.64</text>
</g>
</svg>
</body></html>
